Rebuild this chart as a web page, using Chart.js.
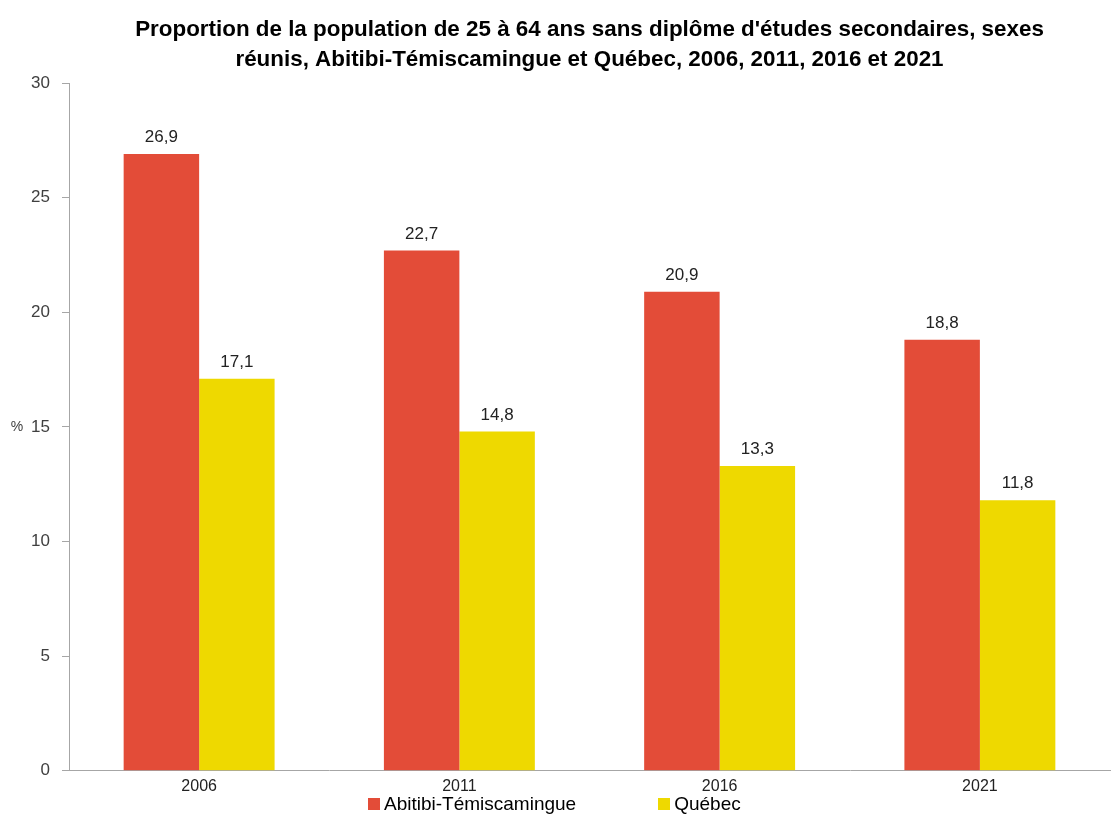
<!DOCTYPE html>
<html>
<head>
<meta charset="utf-8">
<script src="https://cdn.jsdelivr.net/npm/chart.js@4"></script>
<style>
  body { margin: 0; background: #fff; }
  #wrap { position: relative; width: 1113px; height: 838px; }
  #legend {
    position: absolute; left: 368px; top: 793px;
    display: flex; align-items: center;
    font: 19px 'Liberation Sans', Arial, sans-serif; color: #000;
  }
  #legend .item { display: flex; align-items: center; }
  #legend .item + .item { margin-left: 82px; }
  #legend .box { width: 12px; height: 12px; margin-right: 4px; }
</style>
</head>
<body>
<div id="wrap">
  <canvas id="myChart" width="1113" height="838"></canvas>
  <div id="legend"></div>
</div>
<script>
const years = ['2006', '2011', '2016', '2021'];
const abitibi = [26.9, 22.7, 20.9, 18.8];
const quebec = [17.1, 14.8, 13.3, 11.8];
const yTicks = [0, 5, 10, 15, 20, 25, 30];

const FONT = "'Liberation Sans Narrow', 'Arial Narrow', 'Liberation Sans', Arial, sans-serif";

const ctx = document.getElementById('myChart').getContext('2d');

// value labels above bars + the "%" axis title
const labelsPlugin = {
  id: 'barLabels',
  afterDatasetsDraw(chart) {
    const c = chart.ctx;
    c.save();
    c.font = '17px ' + FONT;
    c.fillStyle = '#222';
    c.textAlign = 'center';
    c.textBaseline = 'bottom';
    chart.data.datasets.forEach((ds, i) => {
      chart.getDatasetMeta(i).data.forEach((bar, j) => {
        c.fillText(ds.data[j].toFixed(1).replace('.', ','), bar.x, bar.y - 8);
      });
    });
    const yScale = chart.scales.y;
    c.font = '14px ' + FONT;
    c.fillStyle = '#404040';
    c.textBaseline = 'middle';
    c.fillText('%', 17, yScale.getPixelForValue(15));
    c.restore();
  },
};

const config = {
  type: 'bar',
  data: {
    labels: years,
    datasets: [{
      label: 'Abitibi-Témiscamingue',
      data: abitibi,
      backgroundColor: '#e34c38',
    }, {
      label: 'Québec',
      data: quebec,
      backgroundColor: '#eed900',
    }],
  },
  options: {
    responsive: false,
    animation: false,
    categoryPercentage: 0.58,
    barPercentage: 1.0,
    layout: { padding: { left: 0, right: 3, top: 0, bottom: 36 } },
    plugins: {
      title: {
        display: true,
        fullSize: false,
        text: ["Proportion de la population de 25 à 64 ans sans diplôme d'études secondaires, sexes",
               'réunis, Abitibi-Témiscamingue et Québec, 2006, 2011, 2016 et 2021'],
        color: '#000',
        font: { family: FONT, size: 22.4, weight: 'bold', lineHeight: 1.34 },
        padding: { top: 15, bottom: 8 },
      },
      legend: { display: false },
      tooltip: { enabled: false },
    },
    scales: {
      x: {
        grid: { display: false, tickLength: 0 },
        border: { color: '#a6a6a6', width: 1 },
        ticks: { color: '#222', font: { family: FONT, size: 16 }, padding: 6 },
      },
      y: {
        min: 0,
        max: 30,
        afterBuildTicks: (axis) => {
          axis.ticks = yTicks.map(v => ({ value: v }));
        },
        afterFit: (axis) => { axis.width = 69; },
        grid: { drawOnChartArea: false, tickLength: 7, color: '#a6a6a6' },
        border: { color: '#a6a6a6', width: 1 },
        ticks: { color: '#404040', font: { family: FONT, size: 17 }, padding: 12 },
      },
    },
  },
  plugins: [labelsPlugin],
};

const myChart = new Chart(ctx, config);

// legend built from the datasets
const legendEl = document.getElementById('legend');
myChart.data.datasets.forEach(ds => {
  const item = document.createElement('span');
  item.className = 'item';
  const box = document.createElement('span');
  box.className = 'box';
  box.style.background = ds.backgroundColor;
  item.appendChild(box);
  item.appendChild(document.createTextNode(ds.label));
  legendEl.appendChild(item);
});
</script>
</body>
</html>
